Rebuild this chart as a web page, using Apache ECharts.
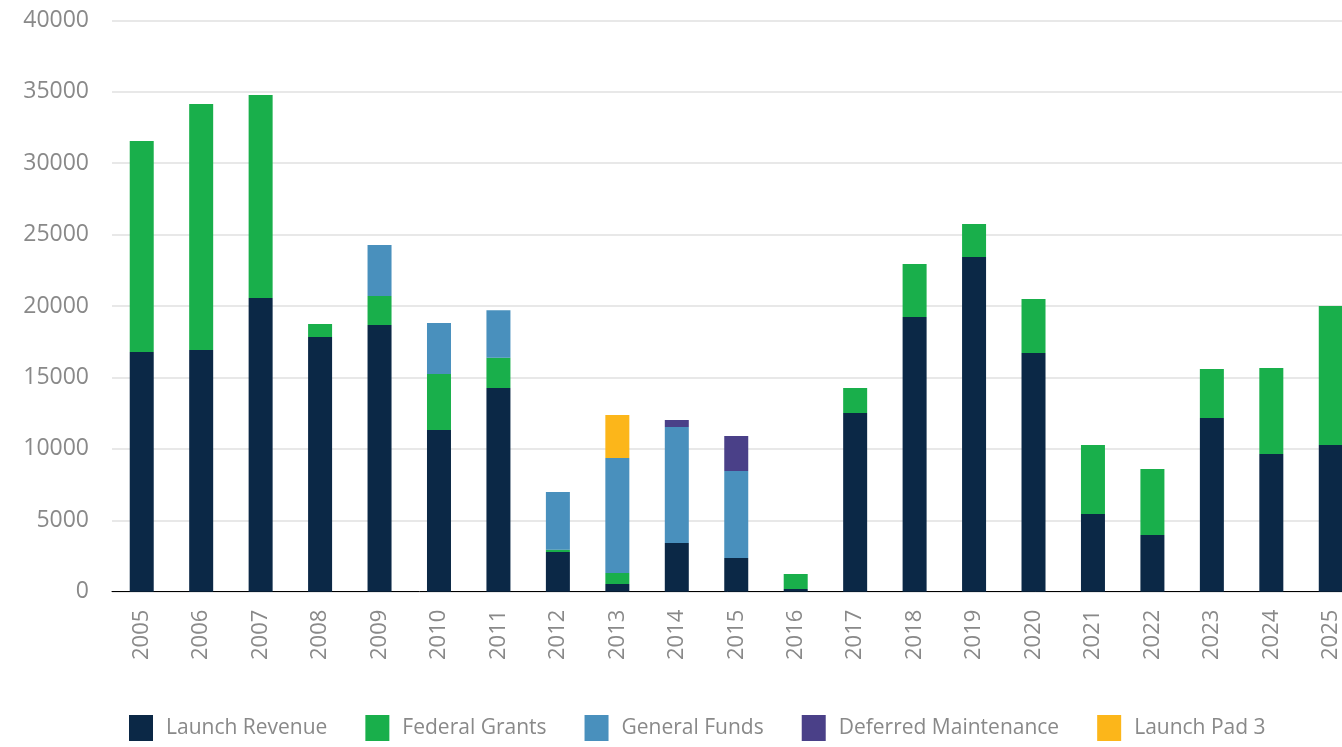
<!DOCTYPE html>
<html>
<head>
<meta charset="utf-8">
<script src="https://cdn.jsdelivr.net/npm/echarts@6/dist/echarts.min.js"></script>
<style>
html,body{margin:0;padding:0;background:#fff;}
#chart{width:1342px;height:747px;}
</style>
</head>
<body>
<div id="chart"></div>
<script>
const years = ['2005','2006','2007','2008','2009','2010','2011','2012','2013','2014','2015','2016','2017','2018','2019','2020','2021','2022','2023','2024','2025'];
const launchRevenue = [16780,16920,20560,17830,18670,11320,14260,2780,540,3410,2360,190,12510,19230,23430,16710,5440,3970,12160,9640,10270];
const federalGrants = [14770,17220,14210,910,2030,3920,2120,160,770,0,0,1050,1750,3710,2310,3780,4830,4620,3430,6020,9730];
const generalFunds = [0,0,0,0,3570,3570,3320,4040,8050,8120,6090,0,0,0,0,0,0,0,0,0,0];
const deferredMaintenance = [0,0,0,0,0,0,0,0,0,490,2450,0,0,0,0,0,0,0,0,0,0];
const launchPad3 = [0,0,0,0,0,0,0,0,3010,0,0,0,0,0,0,0,0,0,0,0,0];
const yTicks = [0,5000,10000,15000,20000,25000,30000,35000,40000];

const seriesDefs = [
  {name:'Launch Revenue', data:launchRevenue, color:'#0B2846'},
  {name:'Federal Grants', data:federalGrants, color:'#19AF4B'},
  {name:'General Funds', data:generalFunds, color:'#4990BD'},
  {name:'Deferred Maintenance', data:deferredMaintenance, color:'#4A4088'},
  {name:'Launch Pad 3', data:launchPad3, color:'#FCB61A'}
];

const chart = echarts.init(document.getElementById('chart'), null, {renderer:'canvas'});
const font = '"Open Sans", "Noto Sans", sans-serif';
chart.setOption({
  animation:false,
  textStyle:{fontFamily:font},
  grid:{left:112, width:1248.5, top:20.3, height:571.4, containLabel:false, outerBoundsMode:'none'},
  legend:{
    left:129, top:715, padding:0, itemWidth:24, itemHeight:26, itemGap:38,
    icon:'rect',
    textStyle:{fontSize:21, color:'#898989', fontFamily:font, padding:[0,0,0,8]},
    data: seriesDefs.map(s=>s.name)
  },
  xAxis:{
    type:'category', data:years,
    axisLine:{lineStyle:{color:'#000', width:1}},
    axisTick:{show:false},
    axisLabel:{rotate:90, fontSize:22, color:'#898989', margin:18, interval:0, fontFamily:font}
  },
  yAxis:{
    type:'value', min:0, max:40000, interval:5000,
    axisLine:{show:false}, axisTick:{show:false},
    splitLine:{lineStyle:{color:'#e0e0e0', width:1.5}},
    axisLabel:{fontSize:23, color:'#898989', margin:23, fontFamily:font,
      formatter:v=> yTicks.includes(v) ? String(v) : ''}
  },
  series: seriesDefs.map(s=>({
    name:s.name, type:'bar', stack:'total', data:s.data, barWidth:24,
    itemStyle:{color:s.color}
  }))
});
</script>
</body>
</html>
